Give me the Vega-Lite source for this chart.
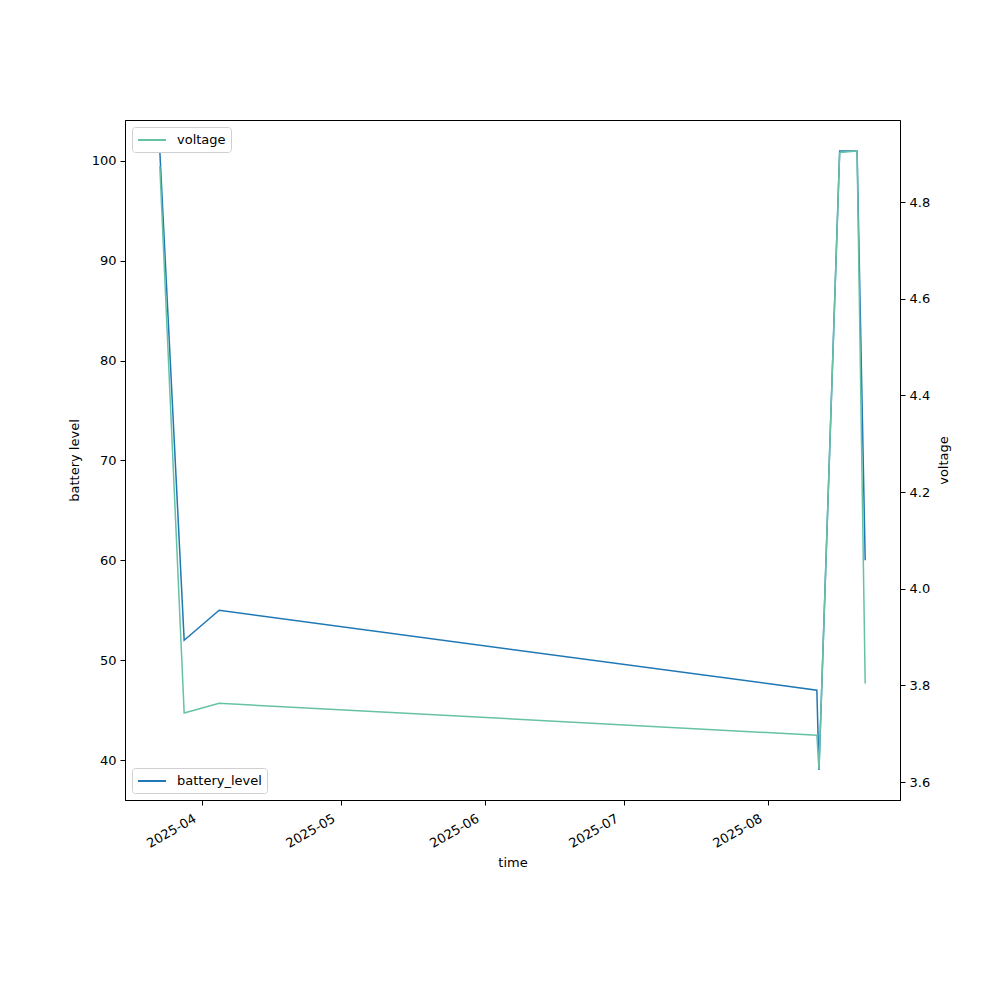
{
  "$schema": "https://vega.github.io/schema/vega-lite/v6.json",
  "width": 775,
  "height": 680,
  "autosize": {"type": "none"},
  "padding": {"left": 125, "top": 120, "right": 100, "bottom": 200},
  "background": "white",
  "config": {
    "font": "DejaVu Sans",
    "view": {"stroke": "black", "strokeWidth": 1},
    "axis": {
      "grid": false,
      "domainColor": "black",
      "tickColor": "black",
      "tickSize": 5,
      "labelFontSize": 13,
      "titleFontSize": 13,
      "labelColor": "black",
      "titleColor": "black",
      "titleFontWeight": "normal",
      "labelPadding": 4,
      "labelFont": "DejaVu Sans",
      "titleFont": "DejaVu Sans"
    },
    "legend": {
      "labelFont": "DejaVu Sans",
      "labelFontSize": 13,
      "labelColor": "black"
    }
  },
  "data": {
    "values": [
      {"time": "2025-03-23T00:00:00", "battery_level": 101, "voltage": 4.875},
      {"time": "2025-03-28T06:00:00", "battery_level": 52, "voltage": 3.743},
      {"time": "2025-04-04T19:00:00", "battery_level": 55, "voltage": 3.763},
      {"time": "2025-08-11T14:00:00", "battery_level": 47, "voltage": 3.697},
      {"time": "2025-08-12T01:00:00", "battery_level": 39, "voltage": 3.627},
      {"time": "2025-08-16T12:00:00", "battery_level": 101, "voltage": 4.903},
      {"time": "2025-08-20T06:00:00", "battery_level": 101, "voltage": 4.906},
      {"time": "2025-08-22T00:00:00", "battery_level": 60, "voltage": 3.804}
    ]
  },
  "layer": [
    {
      "mark": {"type": "line", "strokeWidth": 1.5},
      "encoding": {
        "x": {
          "field": "time",
          "type": "temporal",
          "title": "time",
          "scale": {
            "domain": [
              {"year": 2025, "month": 3, "date": 15, "hours": 12},
              {"year": 2025, "month": 8, "date": 29, "hours": 12}
            ]
          },
          "axis": {
            "values": [
              {"year": 2025, "month": 4, "date": 1},
              {"year": 2025, "month": 5, "date": 1},
              {"year": 2025, "month": 6, "date": 1},
              {"year": 2025, "month": 7, "date": 1},
              {"year": 2025, "month": 8, "date": 1}
            ],
            "format": "%Y-%m",
            "formatType": "time",
            "labelAngle": -30,
            "labelAlign": "right",
            "labelBaseline": "top",
            "labelOffset": -10,
            "labelPadding": 7,
            "titlePadding": 6
          }
        },
        "y": {
          "field": "battery_level",
          "type": "quantitative",
          "title": "battery level",
          "scale": {"domain": [36.0, 104.1], "nice": false, "zero": false},
          "axis": {"values": [40, 50, 60, 70, 80, 90, 100], "titlePadding": 10}
        },
        "color": {
          "datum": "battery_level",
          "type": "nominal",
          "scale": {"range": ["#1f77b4"]},
          "legend": {
            "title": null,
            "orient": "bottom-left",
            "offset": 7,
            "symbolType": "M-2,0H2",
            "symbolSize": 196,
            "symbolStrokeWidth": 2,
            "symbolOffset": 7,
            "labelOffset": 17,
            "padding": 5,
            "strokeColor": "#d0d0d0",
            "fillColor": "white",
            "cornerRadius": 3
          }
        }
      }
    },
    {
      "mark": {"type": "line", "strokeWidth": 1.5},
      "encoding": {
        "x": {"field": "time", "type": "temporal"},
        "y": {
          "field": "voltage",
          "type": "quantitative",
          "title": "voltage",
          "scale": {"domain": [3.563, 4.97], "nice": false, "zero": false},
          "axis": {
            "orient": "right",
            "values": [3.6, 3.8, 4.0, 4.2, 4.4, 4.6, 4.8],
            "format": ".1f",
            "titleAngle": 270,
            "titleBaseline": "bottom",
            "titlePadding": 21
          }
        },
        "color": {
          "datum": "voltage",
          "type": "nominal",
          "scale": {"range": ["#66c2a5"]},
          "legend": {
            "title": null,
            "orient": "top-left",
            "offset": 7,
            "symbolType": "M-2,0H2",
            "symbolSize": 196,
            "symbolStrokeWidth": 2,
            "symbolOffset": 7,
            "labelOffset": 17,
            "padding": 5,
            "strokeColor": "#d0d0d0",
            "fillColor": "white",
            "cornerRadius": 3
          }
        }
      }
    }
  ],
  "resolve": {"scale": {"y": "independent", "color": "independent"}}
}
